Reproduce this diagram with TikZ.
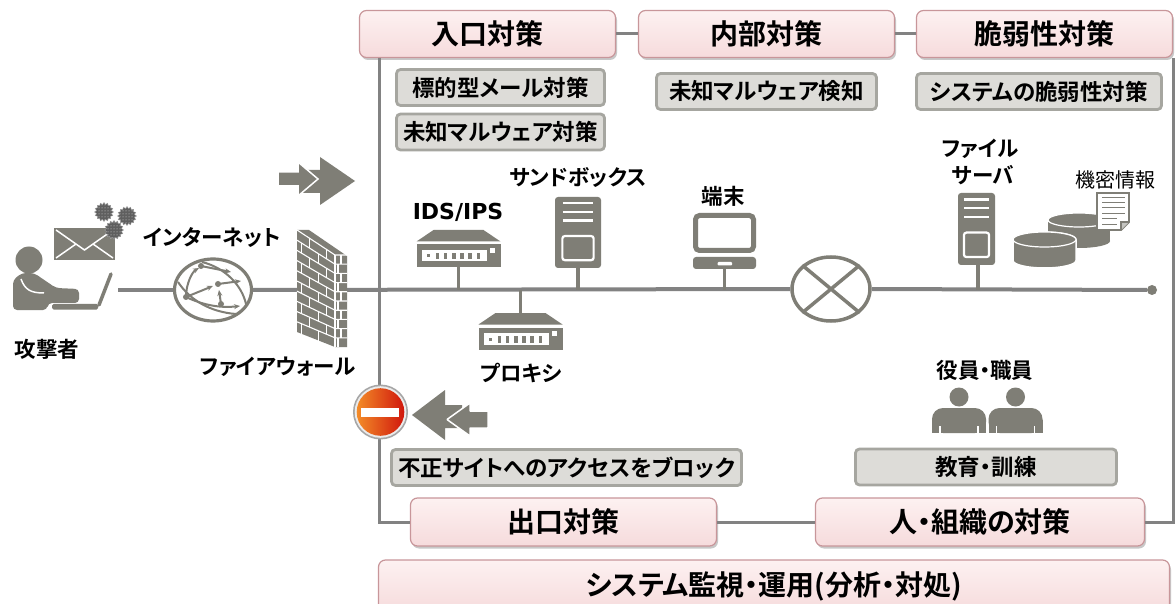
\documentclass[tikz,border=0pt]{standalone}
\usepackage{fontspec}
\setmainfont{Noto Sans CJK JP}[RawFeature=+palt, BoldFont={Noto Sans CJK JP Bold}]
\newfontfamily\latinfont{DejaVu Sans}[BoldFont={DejaVu Sans Bold}]
\usetikzlibrary{shadows,shapes.geometric,patterns,arrows.meta}

\definecolor{icon}{RGB}{127,126,118}
\definecolor{wire}{RGB}{130,130,130}
\definecolor{pinkA}{RGB}{253,241,241}
\definecolor{pinkB}{RGB}{246,219,220}
\definecolor{pinkLine}{RGB}{200,150,154}
\definecolor{tagFill}{RGB}{221,220,216}
\definecolor{tagLine}{RGB}{166,166,160}
\definecolor{stopA}{RGB}{243,140,40}
\definecolor{stopB}{RGB}{208,22,12}
\definecolor{virus}{RGB}{95,95,95}

\tikzset{
  head/.style={draw=pinkLine, line width=1.2pt, rounded corners=7pt,
    top color=pinkA, bottom color=pinkB, inner sep=0pt,
    font=\bfseries\fontsize{28}{31}\selectfont,
    drop shadow={shadow xshift=1.5pt, shadow yshift=-2.5pt, opacity=0.3, fill=black!70}},
  tag/.style={draw=tagLine, line width=2.8pt, fill=tagFill, rounded corners=4pt,
    minimum height=36pt, inner sep=0pt, font=\bfseries\fontsize{22.5}{25}\selectfont},
  lbl/.style={inner sep=0pt, font=\bfseries\fontsize{21.5}{24}\selectfont},
  frame/.style={draw=wire, line width=3pt},
  bus/.style={draw=wire, line width=4pt},
  stem/.style={draw=icon, line width=3.5pt},
  virusnode/.style={star, star points=16, star point ratio=1.25, fill=virus,
    draw=black!40, line width=0.4pt, minimum size=19pt, inner sep=0pt,
    postaction={pattern=dots, pattern color=black!15}},
  router/.pic={
    \fill[icon] (-25,0) -- (25,0) -- (42,11.5) -- (-42,11.5) -- cycle;
    \fill[icon] (-42,14.5) rectangle (42,37);
    \fill[white] (-36.5,20) rectangle (28,31.5);
    \foreach \k in {0,...,5} \fill[icon] ({-23+\k*8.2},23) rectangle ++(3.6,6.5);
    \fill[icon] (-31.5,24.5) rectangle ++(3,3);
    \fill[white] (31.5,18) rectangle (36.5,23);
  }
}

% tower-shaped server: left, top, width, height
\newcommand\towericon[4]{%
  \fill[icon, rounded corners=3pt] (#1,#2) rectangle ++(#3,#4);
  \foreach \yy in {0.09,0.21,0.33}
    \draw[white, line width=2.2pt] ({#1+0.17*#3},{#2+\yy*#4}) -- ({#1+0.83*#3},{#2+\yy*#4});
  \draw[white, line width=2.2pt, rounded corners=2.5pt]
    ({#1+0.16*#3},{#2+0.55*#4}) rectangle ({#1+0.84*#3},{#2+0.89*#4});
}

% staff member: head and shoulders
\newcommand\staffer[1]{%
  \fill[icon] (#1,397) circle[radius=9.5pt];
  \fill[icon, rounded corners=11pt] ({#1-27},408) rectangle ({#1+27},433);
  \fill[icon] ({#1-27},420) rectangle ({#1+27},433);
  \draw[white, line width=1.5pt] ({#1-19},426) -- ({#1-19},433.5);
  \draw[white, line width=1.5pt] ({#1+19},426) -- ({#1+19},433.5);
}

\begin{document}
\begin{tikzpicture}[x=1pt,y=-1pt]
\useasboundingbox (0,0) rectangle (1176,604);
\fill[white] (0,0) rectangle (1176,604);

% ---------- category boxes ----------
\node[head, minimum width=256pt, minimum height=47pt] (hIn)  at (487.5,34) {入口対策};
\node[head, minimum width=256pt, minimum height=47pt] (hMid) at (766.5,34) {内部対策};
\node[head, minimum width=256pt, minimum height=47pt] (hVul) at (1044.5,34) {脆弱性対策};
\node[head, minimum width=306pt, minimum height=48pt] (hOut) at (563.5,522) {出口対策};
\node[head, minimum width=329pt, minimum height=48pt] (hOrg) at (980,522) {人・組織の対策};
\node[head, minimum width=791pt, minimum height=52pt] (hSys) at (774,586) {システム監視・運用(分析・対処)};

% ---------- enclosing frame ----------
\coordinate (fTL) at (379,58);
\coordinate (fTR) at (1173,58);
\draw[frame] (hIn.east) -- (hMid.west);
\draw[frame] (hMid.east) -- (hVul.west);
\draw[frame] (fTL) |- (hOut.west);
\draw[frame] (hOut.east) -- (hOrg.west);
\draw[frame] (hOrg.east) -| (fTR);

% ---------- measure tags ----------
\node[tag, minimum width=208pt] (tg1) at (500.5,87.5) {標的型メール対策};
\node[tag, minimum width=208pt] (tg2) at (500.5,132) {未知マルウェア対策};
\node[tag, minimum width=220pt] (tg3) at (766.5,91.5) {未知マルウェア検知};
\node[tag, minimum width=245pt] (tg4) at (1039,91.5) {システムの脆弱性対策};
\node[tag, minimum width=350pt] (tg5) at (566.5,467.5) {不正サイトへのアクセスをブロック};
\node[tag, minimum width=261pt] (tg6) at (986,467) {教育・訓練};

% ---------- network bus ----------
\coordinate (busL) at (118,290);
\node[ellipse, draw=icon, line width=3.2pt, fill=white, minimum width=77pt,
      minimum height=62pt, inner sep=0pt] (globe) at (213,290) {};
\node[ellipse, draw=icon, line width=3.5pt, fill=white, minimum width=78pt,
      minimum height=64pt, inner sep=0pt] (xnode) at (831,289) {};
\node[circle, fill=icon, minimum size=10pt, inner sep=0pt] (busR) at (1152,290) {};
\draw[bus] (busL) -- (globe.west);
\draw[bus] (globe.east) -- (xnode.west);
\draw[bus] (xnode.east) -- (busR);
\draw[icon, line width=3.5pt] (xnode.north west) -- (xnode.south east);
\draw[icon, line width=3.5pt] (xnode.north east) -- (xnode.south west);

% internet: routes between hubs
\begin{scope}[icon, line width=2pt, >={Stealth[length=6pt,width=5pt]}]
  \draw (202,262) .. controls (226,268) and (242,286) .. (246,304);
  \draw (178,282) .. controls (190,300) and (210,312) .. (236,314);
  \draw[->] (186,297) .. controls (186,284) and (192,272) .. (199,268);
  \draw[->] (186,297) -- (213,286);
  \draw[->] (218,284) -- (241,281);
  \draw[->] (186,297) .. controls (205,306) and (222,308) .. (240,306);
  \draw[->] (221,304) -- (219,290);
  \draw[->] (201,266) -- (231,272);
  \foreach \p in {(201,266),(218,284),(186,297),(221,304)} \fill \p circle[radius=3pt];
\end{scope}

% ---------- attacker ----------
\fill[icon] (29,260) circle[radius=13.5pt];
\fill[icon, rounded corners=4pt] (13,310) -- (13,280) -- (22,273) -- (34,273) -- (56,288)
  -- (79,289) -- (79,303) -- (48,303) -- (47,310) -- cycle;
\draw[white, line width=1.5pt] (21,279) .. controls (25,290) and (31,293) .. (44,293);
\fill[icon, rounded corners=1.5pt] (52,304) rectangle (98,309.5);
\draw[icon, line width=3.5pt, line cap=round] (99,305) -- (111,274);

% mail with attached malware
\fill[icon] (54,228) rectangle (115,260);
\draw[white, line width=1.5pt] (56,230) -- (84.5,250) -- (113,230);
\draw[white, line width=1.5pt] (56,258) -- (76,244);
\draw[white, line width=1.5pt] (113,258) -- (93,244);
\node[virusnode] (v1) at (104,212) {};
\node[virusnode] (v2) at (127,216) {};
\node[virusnode] (v3) at (114,230) {};

% ---------- firewall ----------
\fill[icon] (297,230) -- (309,230) -- (347,256) -- (347,347) -- (335,347) -- (297,332) -- cycle;
\begin{scope}[white, line width=1.1pt]
  \draw (335,255) -- (335,347);
  \draw (297,230) -- (335,255) -- (347,255);
  \foreach \i in {1,...,9}
    \draw (297,{230+10.2*\i}) -- (335,{255+9.2*\i}) -- (347,{255+9.2*\i});
  \foreach \i in {0,...,9} {
    \pgfmathsetmacro\ta{mod(\i,2)==0 ? 0.33 : 0.12}
    \pgfmathsetmacro\tb{mod(\i,2)==0 ? 0.78 : 0.57}
    \pgfmathsetmacro\sx{mod(\i,2)==0 ? 341 : 338}
    \draw ({297+38*\ta},{230+10.2*\i+\ta*(25-\i)}) -- ++(0,{10.2-\ta});
    \draw ({297+38*\tb},{230+10.2*\i+\tb*(25-\i)}) -- ++(0,{10.2-\tb});
    \draw (\sx,{255+9.2*\i}) -- ++(0,9.2);
  }
\end{scope}

% inbound arrows
\fill[icon] (300,170) -- (320,170) -- (320,157) -- (355,181) -- (320,205) -- (320,193) -- (300,193) -- cycle;
\filldraw[fill=icon, draw=white, line width=1.5pt] (278,172) -- (298,172) -- (298,162)
  -- (318,179) -- (298,196) -- (298,186) -- (278,186) -- cycle;

% outbound arrows and block sign
\fill[icon] (412,415) -- (445,390) -- (445,405) -- (462,405) -- (462,428) -- (445,428) -- (445,440) -- cycle;
\filldraw[fill=icon, draw=white, line width=1.5pt, rounded corners=0.5pt] (447,419.5) -- (470,403)
  -- (470,411) -- (488,411) -- (488,428) -- (470,428) -- (470,436) -- cycle;
\fill[black!35] (380.5,412) circle[radius=27.5pt];
\fill[white!92!black] (380.5,412) circle[radius=25.8pt];
\shade[left color=stopA, right color=stopB] (380.5,412) circle[radius=23.8pt];
\fill[white] (361,408) rectangle (399,416.5);

% ---------- devices on the bus ----------
\pic at (458.5,230) {router};
\coordinate (ids) at (458.5,267);
\draw[stem] (ids) -- (ids |- busL);

\pic at (520.5,313) {router};
\coordinate (prx) at (520.5,313);
\draw[stem] (prx |- busL) -- (prx);

\towericon{555}{197}{46}{71}
\coordinate (sbx) at (578,268);
\draw[stem] (sbx) -- (sbx |- busL);

\draw[icon, line width=5pt, rounded corners=4pt, fill=white] (695.5,215.5) rectangle (753.5,250.5);
\fill[icon, rounded corners=3pt] (693,257) rectangle (756,269);
\fill[white, rounded corners=1pt] (717.5,262) rectangle (732,265.5);
\coordinate (pc) at (724.5,269);
\draw[stem] (pc) -- (pc |- busL);

\towericon{958}{193}{37}{72}
\coordinate (fsv) at (978,265);
\draw[stem] (fsv) -- (fsv |- busL);

% confidential data stores
\fill[icon] (1048,220) rectangle (1110,241);
\fill[icon] (1079,241) ellipse[x radius=31, y radius=7];
\filldraw[fill=icon, draw=white, line width=1.2pt] (1079,220) ellipse[x radius=31, y radius=7];
\filldraw[fill=icon, draw=white, line width=1.5pt] (1013,239.5) -- (1013,260.5)
  arc[start angle=180, end angle=0, x radius=31.5, y radius=7.5] -- (1076,239.5)
  arc[start angle=0, end angle=-180, x radius=31.5, y radius=7.5] -- cycle;
\filldraw[fill=icon, draw=white, line width=1.2pt] (1044.5,239.5) ellipse[x radius=31.5, y radius=7.5];
\filldraw[fill=white, draw=icon, line width=1.8pt] (1097,193) -- (1129,193) -- (1129,222)
  -- (1121,230) -- (1097,230) -- cycle;
\filldraw[fill=icon!45, draw=icon, line width=1.2pt] (1129,222) -- (1121,222) -- (1121,230);
\foreach \yy/\xe in {198/1125,203/1125,208/1125,213.5/1125,219/1117,224.5/1117}
  \draw[icon, line width=1pt] (1102,\yy) -- (\xe,\yy);

% staff
\staffer{959}
\staffer{1015.5}

% ---------- labels ----------
\node[lbl] (tAtk) at (47,349) {攻撃者};
\node[lbl] (tNet) at (212,238) {インターネット};
\node[lbl] (tFw)  at (278,367) {ファイアウォール};
\node[lbl, font=\latinfont\bfseries\fontsize{22}{24}\selectfont] (tIds) at (458,212) {IDS/IPS};
\node[lbl] (tSbx) at (578,178) {サンドボックス};
\node[lbl] (tPc)  at (723,196) {端末};
\node[lbl] (tPrx) at (521,373) {プロキシ};
\node[lbl] (tFs1) at (980,149) {ファイル};
\node[lbl] (tFs2) at (983,175) {サーバ};
\node[inner sep=0pt, font=\fontsize{20}{22}\selectfont] (tSec) at (1115,180) {機密情報};
\node[lbl] (tStaff) at (985,370) {役員・職員};
\end{tikzpicture}
\end{document}
